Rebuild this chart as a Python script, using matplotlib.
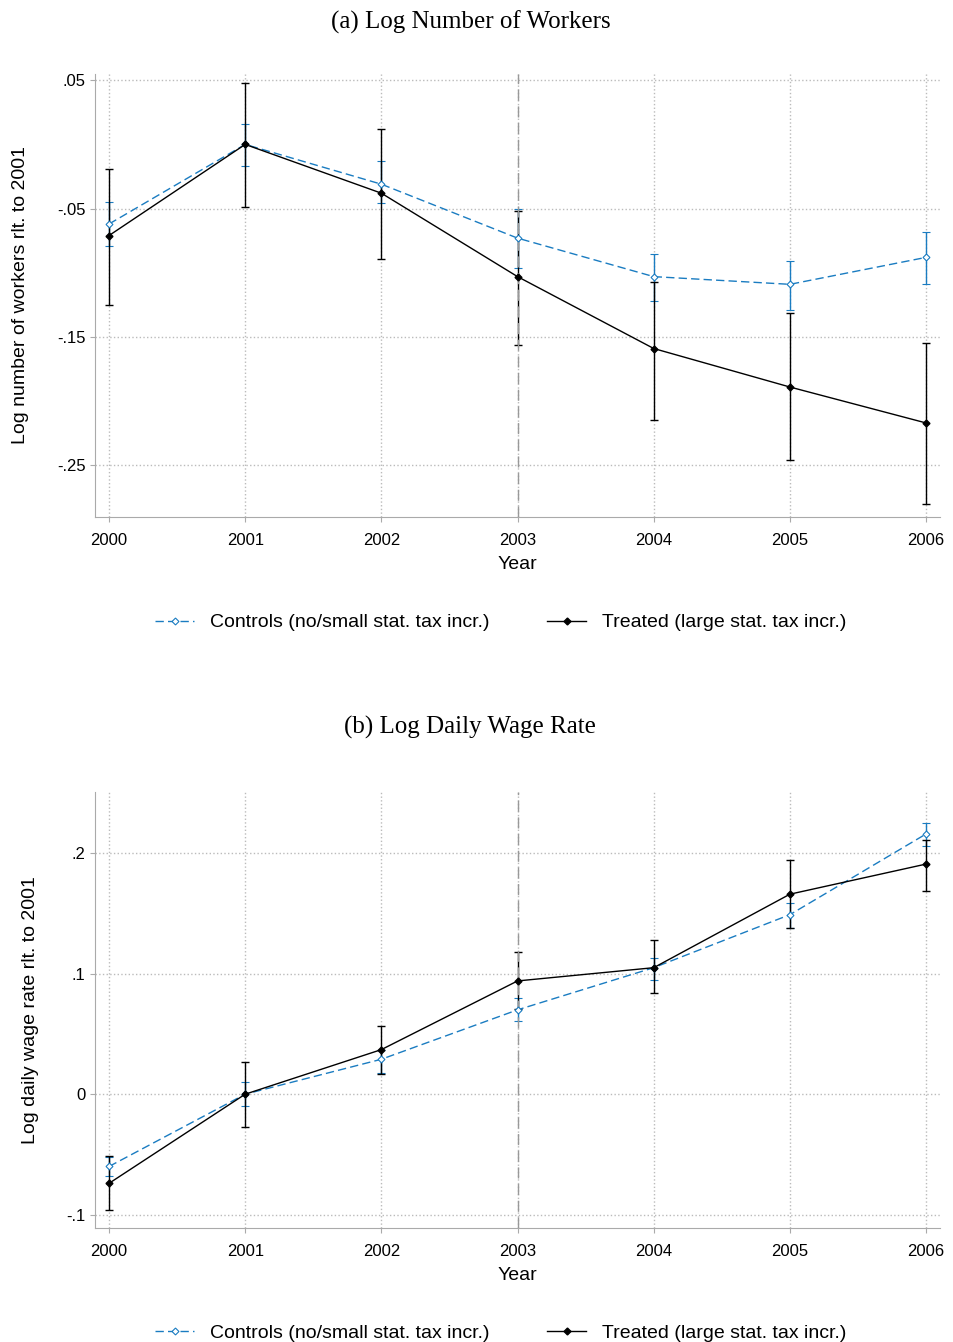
import matplotlib.pyplot as plt
from matplotlib.lines import Line2D

years = [2000, 2001, 2002, 2003, 2004, 2005, 2006]

# panel (a) log number of workers
a_ctrl = [-0.062, 0.0, -0.031, -0.073, -0.103, -0.109, -0.088]
a_ctrl_lo = [-0.079, -0.017, -0.046, -0.096, -0.122, -0.129, -0.109]
a_ctrl_hi = [-0.045, 0.016, -0.013, -0.050, -0.085, -0.091, -0.068]
a_trt = [-0.071, 0.0, -0.038, -0.103, -0.159, -0.189, -0.217]
a_trt_lo = [-0.125, -0.049, -0.089, -0.156, -0.215, -0.246, -0.280]
a_trt_hi = [-0.019, 0.048, 0.012, -0.052, -0.107, -0.131, -0.155]

# panel (b) log daily wage rate
b_ctrl = [-0.060, 0.0, 0.029, 0.070, 0.105, 0.149, 0.216]
b_ctrl_lo = [-0.068, -0.010, 0.018, 0.061, 0.095, 0.138, 0.206]
b_ctrl_hi = [-0.052, 0.010, 0.037, 0.080, 0.113, 0.159, 0.225]
b_trt = [-0.074, 0.0, 0.037, 0.094, 0.105, 0.166, 0.191]
b_trt_lo = [-0.096, -0.027, 0.017, 0.071, 0.084, 0.138, 0.169]
b_trt_hi = [-0.051, 0.027, 0.057, 0.118, 0.128, 0.194, 0.211]

a_yticks = [0.05, -0.05, -0.15, -0.25]
a_ylabels = ['.05', '-.05', '-.15', '-.25']
b_yticks = [0.2, 0.1, 0.0, -0.1]
b_ylabels = ['.2', '.1', '0', '-.1']

plt.rcParams['font.family'] = 'Liberation Sans'
blue = '#1a7cc1'


def draw_panel(ax, ctrl, clo, chi, trt, tlo, thi, yticks, ylabels, ylim, ylabel):
    ax.errorbar(years, ctrl, yerr=[[c - l for c, l in zip(ctrl, clo)], [h - c for c, h in zip(ctrl, chi)]],
                color=blue, ls=(0, (6, 3)), lw=1, marker='D', ms=3.5, mfc='white', mew=0.8,
                capsize=3, elinewidth=1)
    ax.errorbar(years, trt, yerr=[[t - l for t, l in zip(trt, tlo)], [h - t for t, h in zip(trt, thi)]],
                color='black', lw=1, marker='D', ms=3.5, capsize=3, elinewidth=1)
    ax.axvline(2003, color='#999999', ls=(0, (8, 4)), lw=1)
    ax.set_xlim(1999.9, 2006.1)
    ax.set_ylim(*ylim)
    ax.set_xticks(years)
    ax.set_yticks(yticks)
    ax.set_yticklabels(ylabels)
    ax.grid(True, color='#bbbbbb', ls=':', lw=1)
    for s in ['top', 'right']:
        ax.spines[s].set_visible(False)
    for s in ['left', 'bottom']:
        ax.spines[s].set_color('#aaaaaa')
    ax.tick_params(colors='#aaaaaa', labelcolor='black', labelsize=12)
    ax.tick_params(axis='x', pad=8)
    ax.set_xlabel('Year', fontsize=14, labelpad=6)
    ax.set_ylabel(ylabel, fontsize=14, labelpad=20)
    handles = [Line2D([], [], color=blue, ls=(0, (6, 3)), lw=1, marker='D', ms=3.5, mfc='white', mew=0.8),
               Line2D([], [], color='black', lw=1, marker='D', ms=3.5)]
    ax.legend(handles, ['Controls (no/small stat. tax incr.)', 'Treated (large stat. tax incr.)'],
              loc='upper center', bbox_to_anchor=(0.48, -0.18), ncol=2, frameon=False,
              fontsize=14, columnspacing=3, handlelength=2)


fig = plt.figure(figsize=(9.54, 13.42), dpi=100)
ax1 = fig.add_axes([0.10, 0.615, 0.885, 0.33])
ax2 = fig.add_axes([0.10, 0.085, 0.885, 0.325])
draw_panel(ax1, a_ctrl, a_ctrl_lo, a_ctrl_hi, a_trt, a_trt_lo, a_trt_hi, a_yticks, a_ylabels,
           (-0.29, 0.055), 'Log number of workers rlt. to 2001')
draw_panel(ax2, b_ctrl, b_ctrl_lo, b_ctrl_hi, b_trt, b_trt_lo, b_trt_hi, b_yticks, b_ylabels,
           (-0.111, 0.251), 'Log daily wage rate rlt. to 2001')
fig.text(0.493, 1 - 22 / 1342, '(a) Log Number of Workers', ha='center', va='center',
         fontsize=18, family='Liberation Serif')
fig.text(0.493, 1 - 727 / 1342, '(b) Log Daily Wage Rate', ha='center', va='center',
         fontsize=18, family='Liberation Serif')
fig.savefig('out.png', dpi=100)
